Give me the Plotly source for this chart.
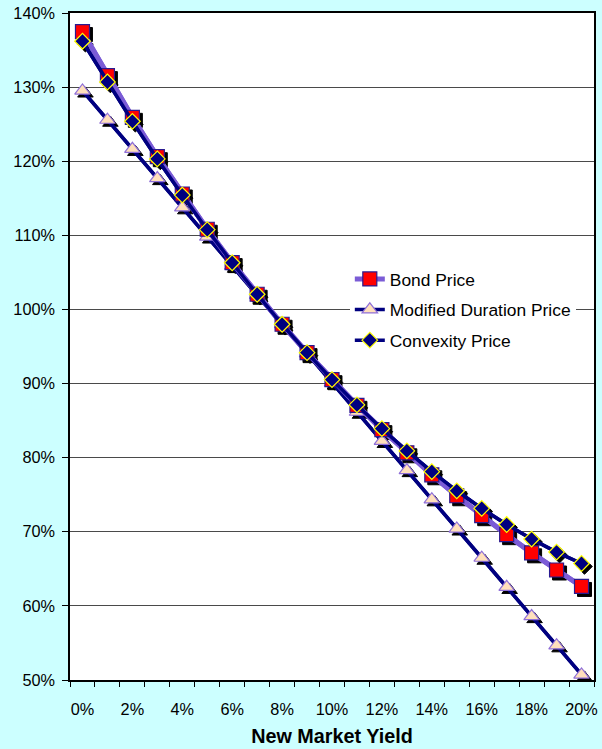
import plotly.graph_objects as go

# New market yield (%) and the matching price of a 5-year 7.5% annual-coupon bond,
# with the duration-only and duration+convexity estimates around 8%.
yields = [0, 1, 2, 3, 4, 5, 6, 7, 8, 9, 10, 11, 12, 13, 14, 15, 16, 17, 18, 19, 20]
yield_labels = ["0%", "1%", "2%", "3%", "4%", "5%", "6%", "7%", "8%", "9%", "10%",
                "11%", "12%", "13%", "14%", "15%", "16%", "17%", "18%", "19%", "20%"]

bond_price = [137.50, 131.55, 125.92, 120.61, 115.58, 110.82, 106.32, 102.05, 98.00,
              94.17, 90.52, 87.06, 83.78, 80.66, 77.69, 74.86, 72.17, 69.61, 67.16,
              64.84, 62.62]
md_price = [129.52, 125.58, 121.64, 117.70, 113.76, 109.82, 105.88, 101.94, 98.00,
            94.06, 90.12, 86.18, 82.24, 78.30, 74.36, 70.42, 66.48, 62.54, 58.60,
            54.66, 50.72]
conv_price = [136.19, 130.69, 125.39, 120.31, 115.43, 110.76, 106.30, 102.05, 98.00,
              94.17, 90.54, 87.12, 83.91, 80.91, 78.11, 75.53, 73.15, 70.98, 69.02,
              67.26, 65.72]

y_ticks = [50, 60, 70, 80, 90, 100, 110, 120, 130, 140]

FONT = "Arial, Liberation Sans, sans-serif"
W, H = 602, 749
M_L, M_R, M_T, M_B = 70, 4, 11, 69
X_RANGE = [-0.5, 20.5]
Y_RANGE = [50, 140]

# drop shadow offset for markers, in pixels
SH = 3
plot_w = W - M_L - M_R
plot_h = H - M_T - M_B
dx = SH * (X_RANGE[1] - X_RANGE[0]) / plot_w
dy = SH * (Y_RANGE[1] - Y_RANGE[0]) / plot_h

series = [
    # name, values, line colour, line width, symbol, size, fill, outline, legend rank
    ("Modified Duration Price", md_price, "#000080", 3.5, "triangle-up", 13.5, "#FFE0BC", "#8F6FD8", 2),
    ("Bond Price", bond_price, "#7B5CD6", 5, "square", 14, "#FF0000", "#2A1A90", 1),
    ("Convexity Price", conv_price, "#000080", 3.5, "diamond", 12, "#000080", "#FFFF00", 3),
]

fig = go.Figure()

# base layer: the axes, gridlines and labels only
fig.add_trace(go.Scatter(x=[None], y=[None], xaxis="x", yaxis="y",
                         showlegend=False, hoverinfo="skip"))

for name, vals, lc, lw, sym, sz, fill, outline, rank in series:
    # connecting lines
    fig.add_trace(go.Scatter(
        x=yields, y=vals, mode="lines", xaxis="x3", yaxis="y3",
        line=dict(color=lc, width=lw), showlegend=False, hoverinfo="skip",
        cliponaxis=False,
    ))

for name, vals, lc, lw, sym, sz, fill, outline, rank in series:
    # marker shadows, on a slightly shifted overlay
    fig.add_trace(go.Scatter(
        x=yields, y=vals, mode="markers", xaxis="x2", yaxis="y2",
        marker=dict(symbol=sym, size=sz, color="#000000",
                    line=dict(color="#000000", width=1)),
        showlegend=False, hoverinfo="skip", cliponaxis=False,
    ))
    # markers with legend entry
    fig.add_trace(go.Scatter(
        x=yields, y=vals, mode="lines+markers", name=name, xaxis="x3", yaxis="y3",
        line=dict(color=lc, width=lw),
        marker=dict(symbol=sym, size=sz, color=fill, line=dict(color=outline, width=1.2)),
        legendrank=rank, legendgroup=name, cliponaxis=False,
    ))

hidden = dict(visible=False, showgrid=False, zeroline=False, fixedrange=True)

fig.update_layout(
    width=W, height=H,
    margin=dict(l=M_L, r=M_R, t=M_T, b=M_B),
    paper_bgcolor="#CCFFFF",
    plot_bgcolor="#FFFFFF",
    font=dict(family=FONT, size=16.3, color="#000000"),
    xaxis=dict(
        range=X_RANGE, tickmode="array",
        tickvals=yields[::2], ticktext=yield_labels[::2],
        ticks="", ticklabelstandoff=14,
        showline=True, linecolor="#000000", linewidth=1.5, mirror=True,
        showgrid=False, zeroline=False,
        minor=dict(tickmode="array",
                   tickvals=[v - 0.5 for v in yields] + [yields[-1] + 0.5],
                   ticks="outside", ticklen=5, tickcolor="#000000", tickwidth=1,
                   showgrid=False),
        title=dict(text="<b>New Market Yield</b>", standoff=12,
                   font=dict(family=FONT, size=19.8)),
    ),
    yaxis=dict(
        range=Y_RANGE, tickmode="array", tickvals=y_ticks,
        ticktext=[f"{v}%" for v in y_ticks],
        ticks="outside", ticklen=6, tickcolor="#000000", ticklabelstandoff=4,
        showline=True, linecolor="#000000", linewidth=1.5, mirror=True,
        showgrid=True, gridcolor="#4A4A4A", gridwidth=1, zeroline=False,
    ),
    xaxis2=dict(hidden, overlaying="x", range=[X_RANGE[0] - dx, X_RANGE[1] - dx]),
    yaxis2=dict(hidden, overlaying="y", range=[Y_RANGE[0] + dy, Y_RANGE[1] + dy]),
    xaxis3=dict(hidden, overlaying="x", range=X_RANGE),
    yaxis3=dict(hidden, overlaying="y", range=Y_RANGE),
    legend=dict(
        x=0.534, y=0.628, xanchor="left", yanchor="top",
        bgcolor="#FFFFFF", borderwidth=0,
        font=dict(family=FONT, size=17.4),
        traceorder="grouped", tracegroupgap=5,
        itemwidth=30,
    ),
    showlegend=True,
)

fig.write_html("out.html")
